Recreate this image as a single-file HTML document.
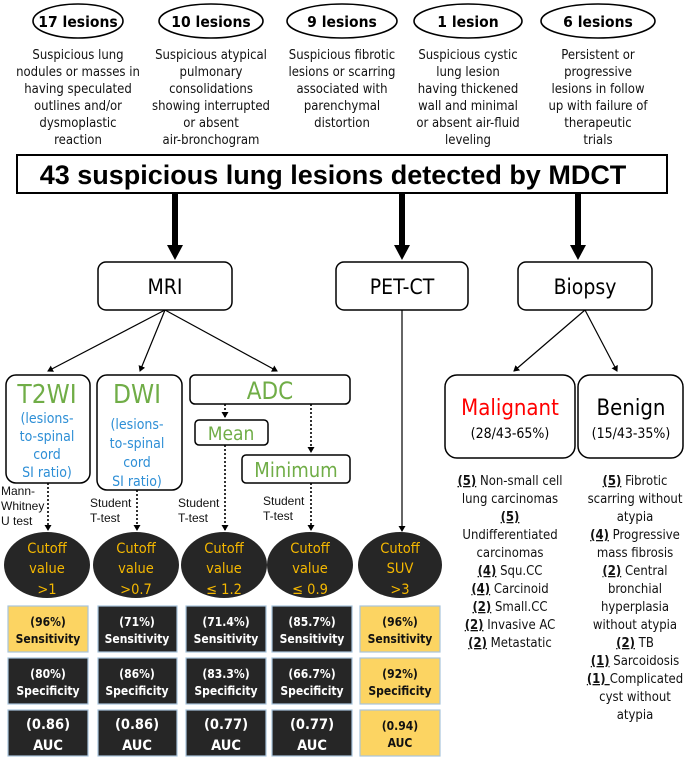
<!DOCTYPE html>
<html><head><meta charset="utf-8"><style>
html,body{margin:0;padding:0;background:#fff;}
svg{display:block;font-family:"Liberation Sans",sans-serif;}
.c{font-family:"DejaVu Sans Condensed","Liberation Sans",sans-serif;}
</style></head><body>
<svg width="685" height="757" viewBox="0 0 685 757" xmlns="http://www.w3.org/2000/svg">
<defs>
<marker id="sh" markerWidth="7" markerHeight="7" refX="5" refY="3.5" orient="auto" markerUnits="userSpaceOnUse"><path d="M0,0 L6,3.5 L0,7 z" fill="#000"/></marker>
</defs>
<g fill="none" stroke="#000" stroke-width="1.6">
<ellipse cx="78" cy="21" rx="45" ry="17"/>
<ellipse cx="211" cy="21" rx="52" ry="17"/>
<ellipse cx="342" cy="21" rx="55" ry="17"/>
<ellipse cx="468" cy="21" rx="54" ry="17"/>
<ellipse cx="598" cy="21" rx="57" ry="17"/>
</g>
<g class="c" font-size="15.5" font-weight="bold" text-anchor="middle">
<text x="78" y="27">17 lesions</text><text x="211" y="27">10 lesions</text><text x="342" y="27">9 lesions</text><text x="468" y="27">1 lesion</text><text x="598" y="27">6 lesions</text>
</g>
<g class="c" font-size="13" text-anchor="middle" fill="#111">
<text x="78" y="59">Suspicious lung</text><text x="78" y="76">nodules or masses in</text><text x="78" y="93">having speculated</text><text x="78" y="110">outlines and/or</text><text x="78" y="127">dysmoplastic</text><text x="78" y="144">reaction</text>
<text x="211" y="59">Suspicious atypical</text><text x="211" y="76">pulmonary</text><text x="211" y="93">consolidations</text><text x="211" y="110">showing interrupted</text><text x="211" y="127">or absent</text><text x="211" y="144">air-bronchogram</text>
<text x="342" y="59">Suspicious fibrotic</text><text x="342" y="76">lesions or scarring</text><text x="342" y="93">associated with</text><text x="342" y="110">parenchymal</text><text x="342" y="127">distortion</text>
<text x="468" y="59">Suspicious cystic</text><text x="468" y="76">lung lesion</text><text x="468" y="93">having thickened</text><text x="468" y="110">wall and minimal</text><text x="468" y="127">or absent air-fluid</text><text x="468" y="144">leveling</text>
<text x="598" y="59">Persistent or</text><text x="598" y="76">progressive</text><text x="598" y="93">lesions in follow</text><text x="598" y="110">up with failure of</text><text x="598" y="127">therapeutic</text><text x="598" y="144">trials</text>
</g>
<rect x="17" y="155" width="650" height="38" fill="#fff" stroke="#000" stroke-width="2"/>
<text x="333" y="184" font-size="27" font-weight="bold" text-anchor="middle">43 suspicious lung lesions detected by MDCT</text>
<g fill="#000">
<rect x="172" y="193" width="6" height="53"/><path d="M167,245 L183,245 L175,260 z"/>
<rect x="399" y="193" width="6" height="53"/><path d="M394,245 L410,245 L402,260 z"/>
<rect x="575" y="193" width="6" height="53"/><path d="M570,245 L586,245 L578,260 z"/>
</g>
<g fill="#fff" stroke="#000" stroke-width="1.5">
<rect x="98" y="262" width="134" height="48" rx="8"/>
<rect x="336" y="262" width="132" height="48" rx="8"/>
<rect x="518" y="262" width="134" height="48" rx="8"/>
</g>
<g class="c" font-size="21" text-anchor="middle">
<text x="165" y="294">MRI</text><text x="402" y="294">PET-CT</text><text x="585" y="294">Biopsy</text>
</g>
<g stroke="#000" stroke-width="1.2" fill="none">
<line x1="165" y1="310" x2="48" y2="371" marker-end="url(#sh)"/>
<line x1="165" y1="310" x2="140" y2="371" marker-end="url(#sh)"/>
<line x1="165" y1="310" x2="277" y2="371" marker-end="url(#sh)"/>
<line x1="585" y1="310" x2="514" y2="371" marker-end="url(#sh)"/>
<line x1="585" y1="310" x2="617" y2="371" marker-end="url(#sh)"/>
<line x1="402" y1="310" x2="402" y2="531" marker-end="url(#sh)"/>
</g>
<g fill="#fff" stroke="#000" stroke-width="1.5">
<rect x="6" y="375" width="84" height="108" rx="10"/>
<rect x="97" y="375" width="85" height="115" rx="10"/>
<rect x="190" y="375" width="160" height="29" rx="5"/>
<rect x="195" y="420" width="73" height="25" rx="4"/>
<rect x="242" y="455" width="108" height="28" rx="4"/>
<rect x="445" y="375" width="130" height="83" rx="12"/>
<rect x="578" y="375" width="105" height="83" rx="12"/>
</g>
<g class="c" text-anchor="middle">
<text x="47" y="403" font-size="26" fill="#70ad47">T2WI</text>
<text x="137" y="403" font-size="26" fill="#70ad47">DWI</text>
<text x="270" y="399" font-size="24" fill="#70ad47">ADC</text>
<text x="231" y="440" font-size="19" fill="#70ad47">Mean</text>
<text x="296" y="477" font-size="20" fill="#70ad47">Minimum</text>
<g font-size="14" fill="#2e8fd6">
<text x="47" y="423">(lesions-</text><text x="47" y="441">to-spinal</text><text x="47" y="459">cord</text><text x="47" y="477">SI ratio)</text>
<text x="137" y="429">(lesions-</text><text x="137" y="448">to-spinal</text><text x="137" y="467">cord</text><text x="137" y="486">SI ratio)</text>
</g>
<text x="510" y="415" font-size="22" fill="#ff0000">Malignant</text>
<text x="510" y="438" font-size="14">(28/43-65%)</text>
<text x="631" y="415" font-size="22">Benign</text>
<text x="631" y="438" font-size="14">(15/43-35%)</text>
</g>
<g stroke="#000" stroke-width="1.6" stroke-dasharray="2,2" fill="none">
<line x1="48" y1="483" x2="48" y2="530" marker-end="url(#sh)"/>
<line x1="137" y1="490" x2="137" y2="530" marker-end="url(#sh)"/>
<line x1="225" y1="404" x2="225" y2="417" marker-end="url(#sh)"/>
<line x1="225" y1="445" x2="225" y2="530" marker-end="url(#sh)"/>
<line x1="311" y1="404" x2="311" y2="452" marker-end="url(#sh)"/>
<line x1="311" y1="483" x2="311" y2="530" marker-end="url(#sh)"/>
</g>
<g font-size="12" fill="#111">
<text x="1" y="495">Mann-</text><text x="1" y="510">Whitney</text><text x="1" y="525">U test</text>
<text x="90" y="507">Student</text><text x="90" y="522">T-test</text>
<text x="178" y="507">Student</text><text x="178" y="522">T-test</text>
<text x="263" y="505">Student</text><text x="263" y="520">T-test</text>
</g>
<g fill="#262626">
<ellipse cx="47" cy="565" rx="43" ry="33"/><ellipse cx="136" cy="565" rx="43" ry="33"/><ellipse cx="224" cy="565" rx="43" ry="33"/><ellipse cx="310" cy="565" rx="43" ry="33"/><ellipse cx="400" cy="565" rx="42" ry="33"/>
</g>
<g class="c" font-size="14.5" fill="#f5b800" text-anchor="middle">
<text x="47" y="553">Cutoff</text><text x="47" y="573">value</text><text x="47" y="594">&gt;1</text>
<text x="136" y="553">Cutoff</text><text x="136" y="573">value</text><text x="136" y="594">&gt;0.7</text>
<text x="224" y="553">Cutoff</text><text x="224" y="573">value</text><text x="224" y="594">≤ 1.2</text>
<text x="310" y="553">Cutoff</text><text x="310" y="573">value</text><text x="310" y="594">≤ 0.9</text>
<text x="400" y="553">Cutoff</text><text x="400" y="573">SUV</text><text x="400" y="594">&gt;3</text>
</g>
<g stroke="#a8c4dc" stroke-width="1.2">
<rect x="8" y="606" width="80" height="46" fill="#fcd462"/><rect x="98" y="606" width="79" height="46" fill="#262626"/><rect x="186" y="606" width="80" height="46" fill="#262626"/><rect x="272" y="606" width="80" height="46" fill="#262626"/><rect x="360" y="606" width="80" height="46" fill="#fcd462"/>
<rect x="8" y="658" width="80" height="46" fill="#262626"/><rect x="98" y="658" width="79" height="46" fill="#262626"/><rect x="186" y="658" width="80" height="46" fill="#262626"/><rect x="272" y="658" width="80" height="46" fill="#262626"/><rect x="360" y="658" width="80" height="46" fill="#fcd462"/>
<rect x="8" y="710" width="80" height="46" fill="#262626"/><rect x="98" y="710" width="79" height="46" fill="#262626"/><rect x="186" y="710" width="80" height="46" fill="#262626"/><rect x="272" y="710" width="80" height="46" fill="#262626"/><rect x="360" y="710" width="80" height="46" fill="#fcd462"/>
</g>
<g class="c" font-size="12" font-weight="bold" text-anchor="middle">
<text x="48" y="626" fill="#111">(96%)</text><text x="48" y="643" fill="#111">Sensitivity</text>
<text x="137" y="626" fill="#fff">(71%)</text><text x="137" y="643" fill="#fff">Sensitivity</text>
<text x="226" y="626" fill="#fff">(71.4%)</text><text x="226" y="643" fill="#fff">Sensitivity</text>
<text x="312" y="626" fill="#fff">(85.7%)</text><text x="312" y="643" fill="#fff">Sensitivity</text>
<text x="400" y="626" fill="#111">(96%)</text><text x="400" y="643" fill="#111">Sensitivity</text>
<text x="48" y="678" fill="#fff">(80%)</text><text x="48" y="695" fill="#fff">Specificity</text>
<text x="137" y="678" fill="#fff">(86%)</text><text x="137" y="695" fill="#fff">Specificity</text>
<text x="226" y="678" fill="#fff">(83.3%)</text><text x="226" y="695" fill="#fff">Specificity</text>
<text x="312" y="678" fill="#fff">(66.7%)</text><text x="312" y="695" fill="#fff">Specificity</text>
<text x="400" y="678" fill="#111">(92%)</text><text x="400" y="695" fill="#111">Specificity</text>
<g font-size="14.5" fill="#fff">
<text x="48" y="729">(0.86)</text><text x="48" y="750">AUC</text>
<text x="137" y="729">(0.86)</text><text x="137" y="750">AUC</text>
<text x="226" y="729">(0.77)</text><text x="226" y="750">AUC</text>
<text x="312" y="729">(0.77)</text><text x="312" y="750">AUC</text>
</g>
<text x="400" y="730" fill="#111">(0.94)</text><text x="400" y="747" fill="#111">AUC</text>
</g>
<g class="c" font-size="13" text-anchor="middle" fill="#111">
<text x="510" y="485"><tspan font-weight="bold" text-decoration="underline">(5)</tspan> Non-small cell</text>
<text x="510" y="503">lung carcinomas</text>
<text x="510" y="521" font-weight="bold" text-decoration="underline">(5)</text>
<text x="510" y="539">Undifferentiated</text>
<text x="510" y="557">carcinomas</text>
<text x="510" y="575"><tspan font-weight="bold" text-decoration="underline">(4)</tspan> Squ.CC</text>
<text x="510" y="593"><tspan font-weight="bold" text-decoration="underline">(4)</tspan> Carcinoid</text>
<text x="510" y="611"><tspan font-weight="bold" text-decoration="underline">(2)</tspan> Small.CC</text>
<text x="510" y="629"><tspan font-weight="bold" text-decoration="underline">(2)</tspan> Invasive AC</text>
<text x="510" y="647"><tspan font-weight="bold" text-decoration="underline">(2)</tspan> Metastatic</text>
<text x="635" y="485"><tspan font-weight="bold" text-decoration="underline">(5)</tspan> Fibrotic</text>
<text x="635" y="503">scarring without</text>
<text x="635" y="521">atypia</text>
<text x="635" y="539"><tspan font-weight="bold" text-decoration="underline">(4)</tspan> Progressive</text>
<text x="635" y="557">mass fibrosis</text>
<text x="635" y="575"><tspan font-weight="bold" text-decoration="underline">(2)</tspan> Central</text>
<text x="635" y="593">bronchial</text>
<text x="635" y="611">hyperplasia</text>
<text x="635" y="629">without atypia</text>
<text x="635" y="647"><tspan font-weight="bold" text-decoration="underline">(2)</tspan> TB</text>
<text x="635" y="665"><tspan font-weight="bold" text-decoration="underline">(1)</tspan> Sarcoidosis</text>
<text x="635" y="683"><tspan font-weight="bold" text-decoration="underline">(1) </tspan>Complicated</text>
<text x="635" y="701">cyst without</text>
<text x="635" y="719">atypia</text>
</g>
</svg>
</body></html>
